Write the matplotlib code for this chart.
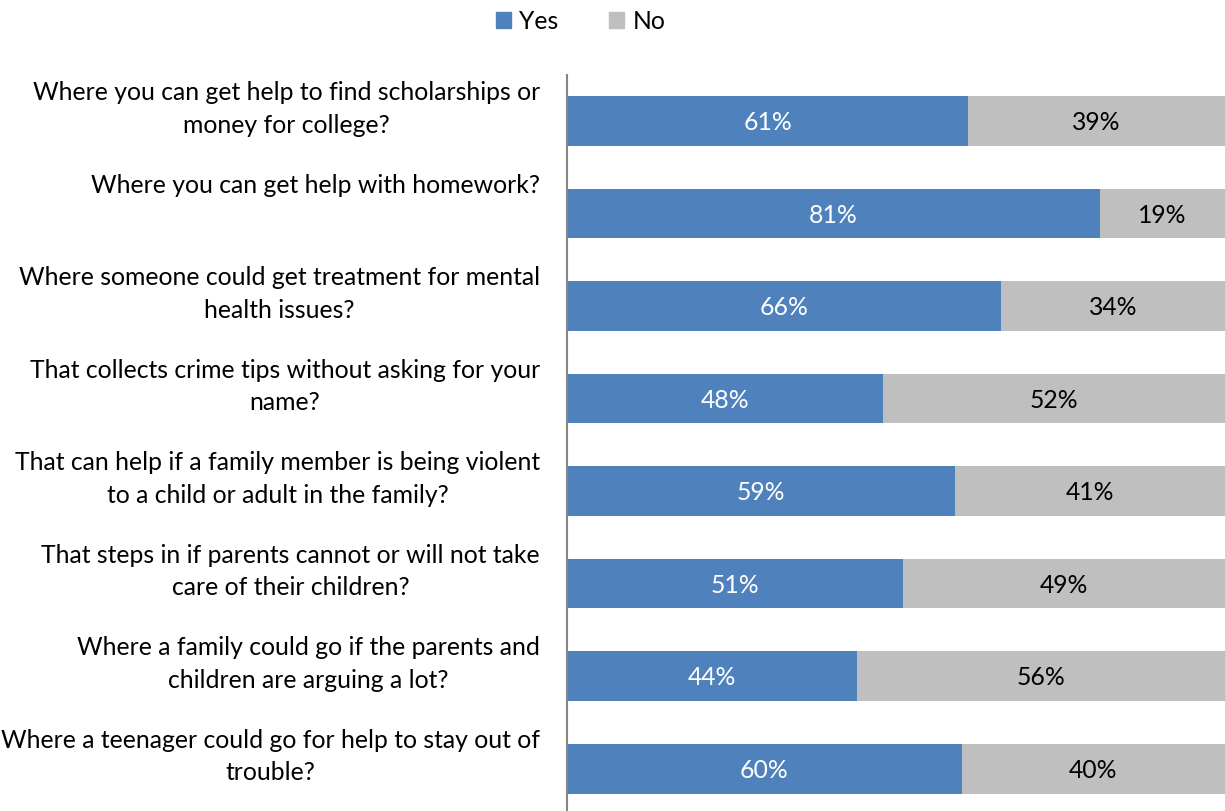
import matplotlib.pyplot as plt
from matplotlib.patches import Patch

plt.rcParams['font.family'] = ['Lato', 'DejaVu Sans']

# survey items, top to bottom
questions = [
    'Where you can get help to find scholarships or\nmoney for college?',
    'Where you can get help with homework?',
    'Where someone could get treatment for mental\nhealth issues?',
    'That collects crime tips without asking for your\nname?',
    'That can help if a family member is being violent\nto a child or adult in the family?',
    'That steps in if parents cannot or will not take\ncare of their children?',
    'Where a family could go if the parents and\nchildren are arguing a lot?',
    'Where a teenager could go for help to stay out of\ntrouble?',
]
yes_pct = [61, 81, 66, 48, 59, 51, 44, 60]
no_pct = [39, 19, 34, 52, 41, 49, 56, 40]

blue = '#4F81BD'
gray = '#BFBFBF'
fs = 17.8

fig = plt.figure(figsize=(12.25, 8.11), dpi=100)
ax = fig.add_axes([567 / 1225, 0, 1 - 567 / 1225, 1 - 75 / 811])

pos = list(range(len(questions)))
ax.barh(pos, yes_pct, height=0.54, color=blue)
ax.barh(pos, no_pct, left=yes_pct, height=0.54, color=gray)

for i, (y, n) in enumerate(zip(yes_pct, no_pct)):
    ax.text(y / 2, i + 0.02, f'{y}%', ha='center', va='center', color='white', fontsize=fs)
    ax.text(y + n / 2, i + 0.02, f'{n}%', ha='center', va='center', color='black', fontsize=fs)
    # category labels sit near the top of each slot
    ax.text(-4.1, i - 0.43, questions[i], ha='right', va='top', fontsize=fs,
            multialignment='center', linespacing=1.5, clip_on=False)

ax.set_xlim(0, 100)
ax.set_ylim(7.459, -0.497)
ax.set_xticks([])
ax.set_yticks([])
for s in ['top', 'right', 'bottom']:
    ax.spines[s].set_visible(False)
ax.spines['left'].set_color('#868686')
ax.spines['left'].set_linewidth(1.5)

handles = [Patch(color=blue, label='Yes'), Patch(color=gray, label='No')]
fig.legend(handles=handles, loc='center', bbox_to_anchor=(0.474, 0.974), ncol=2,
           frameon=False, fontsize=fs, handlelength=0.6, handleheight=0.6,
           handletextpad=0.35, columnspacing=2.05)

fig.savefig('out.png', dpi=100)
